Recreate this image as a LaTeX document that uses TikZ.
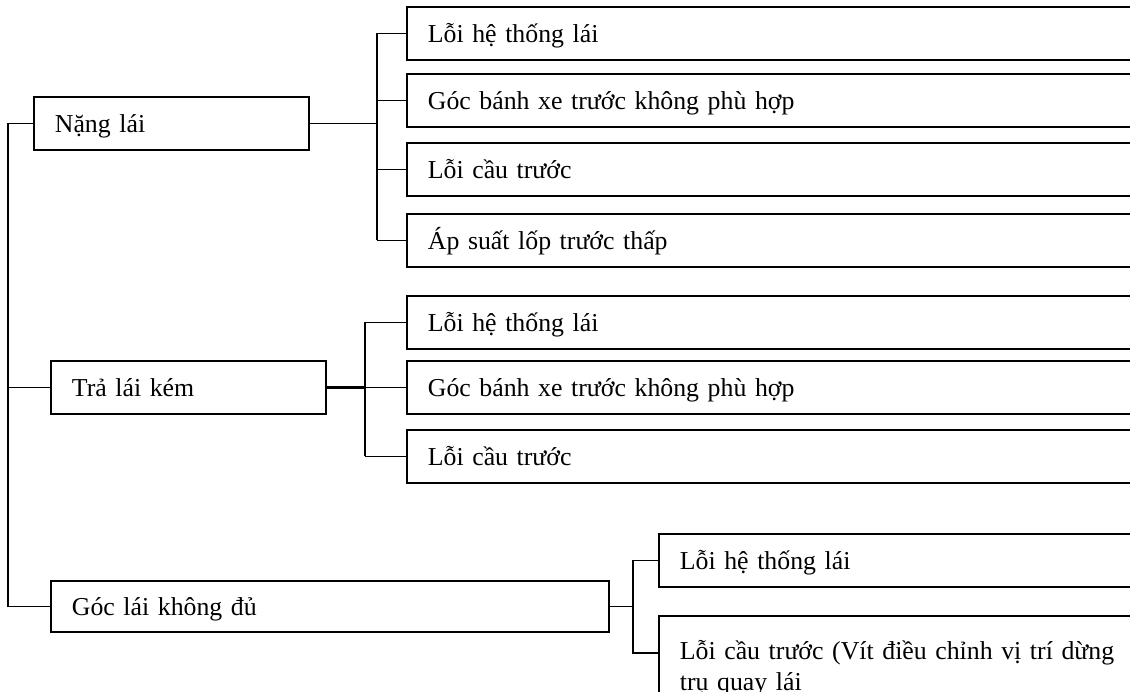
\documentclass[tikz,border=0pt]{standalone}
\usepackage{fontspec}
\setmainfont{Liberation Serif}
\usetikzlibrary{positioning}

\tikzset{
  fault/.style={draw, line width=1.8pt, anchor=north west, inner xsep=21pt,
    align=left, font=\fontsize{25.8}{31}\selectfont},
  oneline/.style={fault, text width=#1, minimum height=53pt,
    text height=18pt, text depth=0pt},
  link/.style={line width=1.6pt},
}

\begin{document}
\begin{tikzpicture}[x=1pt, y=1pt]
  \useasboundingbox (0,0) rectangle (1130,-692);
  \clip (0,0) rectangle (1130,-692);

  % symptoms
  \node[oneline=233pt] (nang) at (33,-96) {Nặng lái};
  \node[oneline=233pt] (tra) at (50,-360) {Trả lái kém};
  \node[oneline=516pt, minimum height=51pt] (goc) at (50,-580) {Góc lái không đủ};

  % causes (boxes run past the right edge)
  \node[oneline=692pt] (n1) at (406,-6) {Lỗi hệ thống lái};
  \node[oneline=692pt] (n2) at (406,-73) {Góc bánh xe trước không phù hợp};
  \node[oneline=692pt] (n3) at (406,-142) {Lỗi cầu trước};
  \node[oneline=692pt] (n4) at (406,-213) {Áp suất lốp trước thấp};

  \node[oneline=692pt] (t1) at (406,-295) {Lỗi hệ thống lái};
  \node[oneline=692pt] (t2) at (406,-360) {Góc bánh xe trước không phù hợp};
  \node[oneline=692pt] (t3) at (406,-429) {Lỗi cầu trước};

  \node[oneline=440pt] (g1) at (658,-533) {Lỗi hệ thống lái};
  \node[fault, text width=480pt, text height=24pt, inner ysep=13pt,
        minimum height=100pt] (g2) at (658,-615)
        {Lỗi cầu trước (Vít điều chỉnh vị trí dừng\\ trụ quay lái};

  % trunk on the left
  \coordinate (trunk) at (8,0);
  \draw[link] (nang.west) -- (nang.west -| trunk) |- (goc.west);
  \draw[link] (tra.west) -- (tra.west -| trunk);

  % branches
  \coordinate (b1) at (377,0);
  \coordinate (b2) at (365,0);
  \coordinate (b3) at (633,0);
  \draw[link] (nang.east) -- (nang.east -| b1);
  \draw[link] (n1.west -| b1) -- (n4.west -| b1);
  \foreach \c in {n1,n2,n3,n4}
    \draw[link] (\c.west -| b1) -- (\c.west);

  \draw[line width=2.8pt] (tra.east) -- (tra.east -| b2);
  \draw[link] (t1.west -| b2) -- (t3.west -| b2);
  \foreach \c in {t1,t2,t3}
    \draw[link] (\c.west -| b2) -- (\c.west);

  \draw[link] (goc.east) -- (goc.east -| b3);
  \draw[link] (g1.west -| b3) |- (g1.west);
  \draw[link] (g1.west -| b3) |- ([yshift=-38pt]g2.north west);
\end{tikzpicture}
\end{document}
